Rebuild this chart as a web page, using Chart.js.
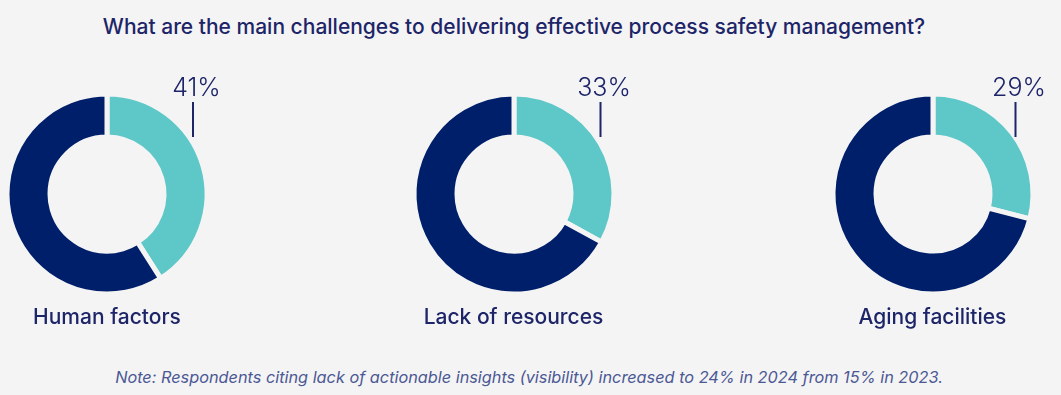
<!DOCTYPE html>
<html lang="en">

<head>
    <meta charset="UTF-8">
    <title>Process safety management challenges</title>
    <script src="https://cdn.jsdelivr.net/npm/chart.js"></script>
    <style>
        html,
        body {
            margin: 0;
            padding: 0;
            background-color: #f4f4f4;
            overflow: hidden;
        }

        .page {
            position: relative;
            width: 1061px;
            height: 395px;
            font-family: 'Inter', 'Noto Sans', sans-serif;
            color: #1d2568;
        }

        .title {
            position: absolute;
            left: 0;
            width: 1028px;
            top: 14px;
            text-align: center;
            font-size: 21px;
            font-weight: 500;
        }

        .donut {
            position: absolute;
            width: 260px;
            height: 260px;
        }

        .label {
            position: absolute;
            width: 260px;
            top: 304px;
            text-align: center;
            font-size: 21px;
            font-weight: 500;
        }

        .note {
            position: absolute;
            left: 0;
            width: 1058px;
            top: 367px;
            text-align: center;
            font-size: 16.3px;
            font-style: italic;
            color: #4b5894;
        }
    </style>
</head>

<body>
    <div class="page" id="page">
        <div class="title">What are the main challenges to delivering effective process safety management?</div>
        <div class="note">Note: Respondents citing lack of actionable insights (visibility) increased to 24% in 2024 from 15% in 2023.</div>
    </div>
    <script>
        // data
        const categories = ['Human factors', 'Lack of resources', 'Aging facilities'];
        const shares = [41, 33, 29];
        const remainder = [59, 67, 71];

        const teal = '#5ec7c8';
        const navy = '#001f6b';
        const bg = '#f4f4f4';

        // layout: donut centres and leader line offsets
        const centersX = [107, 513.5, 932.5];
        const centerY = 193.5;
        const lineDx = [86, 86.5, 82.5];

        const pctLabel = {
            id: 'pctLabel',
            afterDraw(chart) {
                const arc = chart.getDatasetMeta(0).data[0];
                const i = chart.options.plugins.pctLabel.index;
                const ctx = chart.ctx;
                const lx = arc.x + lineDx[i];
                ctx.save();
                ctx.strokeStyle = '#1d2568';
                ctx.lineWidth = 2;
                ctx.beginPath();
                ctx.moveTo(lx, arc.y - 92);
                ctx.lineTo(lx, arc.y - 57);
                ctx.stroke();
                ctx.fillStyle = '#1d2568';
                ctx.font = '300 25px Inter, sans-serif';
                ctx.textAlign = 'center';
                ctx.textBaseline = 'alphabetic';
                ctx.fillText(shares[i] + '%', lx + 3.5, arc.y - 98.5);
                ctx.restore();
            }
        };

        const page = document.getElementById('page');

        categories.forEach((name, i) => {
            const box = document.createElement('div');
            box.className = 'donut';
            box.style.left = (centersX[i] - 130) + 'px';
            box.style.top = (centerY - 130) + 'px';
            const canvas = document.createElement('canvas');
            box.appendChild(canvas);
            page.appendChild(box);

            const label = document.createElement('div');
            label.className = 'label';
            label.style.left = (centersX[i] - 130) + 'px';
            label.textContent = name;
            page.appendChild(label);

            new Chart(canvas.getContext('2d'), {
                type: 'doughnut',
                data: {
                    labels: [name, 'Other'],
                    datasets: [{
                        data: [shares[i], remainder[i]],
                        backgroundColor: [teal, navy],
                        borderColor: bg,
                        borderWidth: 5
                    }]
                },
                options: {
                    responsive: true,
                    maintainAspectRatio: false,
                    animation: false,
                    events: [],
                    cutout: '57%',
                    layout: { padding: 27.5 },
                    plugins: {
                        legend: { display: false },
                        tooltip: { enabled: false },
                        pctLabel: { index: i }
                    }
                },
                plugins: [pctLabel]
            });
        });
    </script>
</body>

</html>
